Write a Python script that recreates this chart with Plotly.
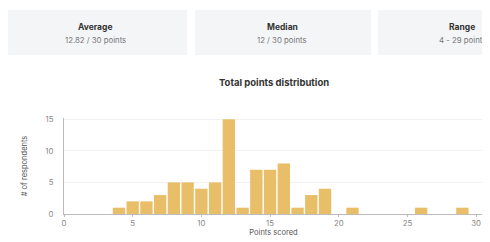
import plotly.graph_objects as go

points = [4, 5, 6, 7, 8, 9, 10, 11, 12, 13, 14, 15, 16, 17, 18, 19, 21, 26, 29]
respondents = [1, 2, 2, 3, 5, 5, 4, 5, 15, 1, 7, 7, 8, 1, 3, 4, 1, 1, 1]

card_titles = ["Average", "Median", "Range"]
card_values = ["12.82 / 30 points", "12 / 30 points", "4 - 29 points"]

x_ticks = [0, 5, 10, 15, 20, 25, 30]
y_ticks = [0, 5, 10, 15]

OFF = 8  # page body margin
W, H = 490 - OFF, 242 - OFF
L = 64 - OFF
T = 118 - OFF
R = W - (483 - OFF)
B = H - (214 - OFF)
pw = W - L - R
ph = H - T - B

def px(x):
    return (x - OFF - L) / pw

def py(y):
    return (H - B - (y - OFF)) / ph

fig = go.Figure()
fig.add_trace(go.Bar(x=points, y=respondents, width=0.9,
                     marker=dict(color="#E8BF68", line=dict(width=0)),
                     hoverinfo="skip"))

font = "Inter, Roboto, sans-serif"
shapes = []
annotations = []
cards = [(8, 187, 95), (195, 371, 282), (378, 560, 462)]
for (x0, x1, cx), t, v in zip(cards, card_titles, card_values):
    shapes.append(dict(type="rect", xref="paper", yref="paper",
                       x0=px(x0), x1=px(x1), y0=py(55), y1=py(10),
                       fillcolor="#F4F5F7", line=dict(width=0), layer="below"))
    annotations.append(dict(xref="paper", yref="paper", x=px(cx), y=py(27),
                            text="<b>" + t + "</b>", showarrow=False,
                            xanchor="center", yanchor="middle",
                            font=dict(family=font, size=8.5, color="#333")))
    annotations.append(dict(xref="paper", yref="paper", x=px(cx), y=py(40),
                            text=v, showarrow=False,
                            xanchor="center", yanchor="middle",
                            font=dict(family=font, size=7.8, color="#777")))

annotations.append(dict(xref="paper", yref="paper", x=0.5, y=py(82),
                        text="<b>Total points distribution</b>", showarrow=False,
                        xanchor="center", yanchor="middle",
                        font=dict(family=font, size=9.5, color="#333")))

fig.update_layout(
    width=W, height=H,
    margin=dict(l=L, r=R, t=T, b=B),
    paper_bgcolor="white", plot_bgcolor="white",
    showlegend=False,
    shapes=shapes, annotations=annotations,
    font=dict(family=font, size=7.5, color="#888"),
    xaxis=dict(range=[0, 30.5], tickvals=x_ticks, showgrid=False,
               showline=True, linecolor="#BBBBBB", linewidth=1,
               ticks="outside", ticklen=2, tickcolor="#BBBBBB",
               tickfont=dict(size=7.8, color="#888"),
               title=dict(text="Points scored", font=dict(size=7.5, color="#555"), standoff=2),
               zeroline=False, fixedrange=True),
    yaxis=dict(range=[0, 15.2], tickvals=y_ticks, showgrid=True, gridcolor="#F2F2F2",
               showline=True, linecolor="#BBBBBB", linewidth=1,
               tickfont=dict(size=7.8, color="#888"), ticks="", ticklabelstandoff=8,
               title=dict(text="# of respondents", font=dict(size=7.5, color="#555"), standoff=16),
               zeroline=False, fixedrange=True),
)

fig.write_html("out.html")
